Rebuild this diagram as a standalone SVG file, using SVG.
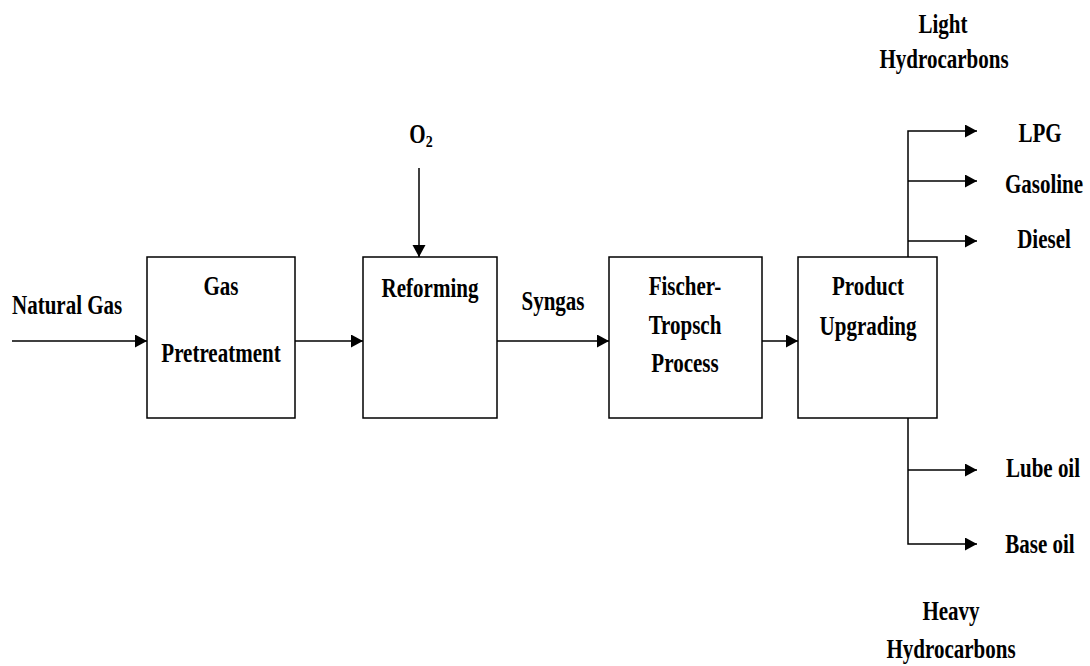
<svg xmlns="http://www.w3.org/2000/svg" width="1090" height="666" viewBox="0 0 1090 666">
<defs>
<style>
.box{fill:#fff;stroke:#000;stroke-width:1.5}
.ln{fill:none;stroke:#000;stroke-width:1.5}
.t{font-family:"Times New Roman","Liberation Serif",serif;font-weight:bold;font-size:21px;fill:#000;text-anchor:middle}
</style>
<marker id="ah" markerUnits="userSpaceOnUse" markerWidth="14" markerHeight="14" refX="12" refY="6.5" orient="auto">
<path d="M0,0 L12,6.5 L0,13 z" fill="#000"/>
</marker>
</defs>
<rect width="1090" height="666" fill="#fff"/>
<g id="connectors">
<path class="ln" d="M12,341 H147" marker-end="url(#ah)"/>
<path class="ln" d="M295,341 H363" marker-end="url(#ah)"/>
<path class="ln" d="M497,341 H609" marker-end="url(#ah)"/>
<path class="ln" d="M762,341 H798" marker-end="url(#ah)"/>
<path class="ln" d="M419,168 V257" marker-end="url(#ah)"/>
<path class="ln" d="M908,257 V131 H977" marker-end="url(#ah)"/>
<path class="ln" d="M908,181 H977" marker-end="url(#ah)"/>
<path class="ln" d="M908,241 H977" marker-end="url(#ah)"/>
<path class="ln" d="M908,418 V544 H977" marker-end="url(#ah)"/>
<path class="ln" d="M908,470 H977" marker-end="url(#ah)"/>
</g>
<g id="gas-pretreatment">
<rect class="box" x="147" y="257" width="148" height="161"/>
<text class="t" transform="translate(221,295) scale(1,1.25)">Gas</text>
<text class="t" transform="translate(221,362) scale(1,1.25)">Pretreatment</text>
</g>
<g id="reforming">
<rect class="box" x="363" y="257" width="134" height="161"/>
<text class="t" transform="translate(430,297) scale(1,1.25)">Reforming</text>
</g>
<g id="fischer-tropsch">
<rect class="box" x="609" y="257" width="153" height="161"/>
<text class="t" transform="translate(685,295) scale(1,1.25)">Fischer-</text>
<text class="t" transform="translate(685,334) scale(1,1.25)">Tropsch</text>
<text class="t" transform="translate(685,372) scale(1,1.25)">Process</text>
</g>
<g id="product-upgrading">
<rect class="box" x="798" y="257" width="139" height="161"/>
<text class="t" transform="translate(868,295) scale(1,1.25)">Product</text>
<text class="t" transform="translate(868,335) scale(1,1.25)">Upgrading</text>
</g>
<g id="labels">
<text class="t" style="text-anchor:start" transform="translate(12,314) scale(1,1.25)">Natural Gas</text>
<text class="t" transform="translate(421,143) scale(1,1.25)">O<tspan font-size="14" dy="3">2</tspan></text>
<text class="t" transform="translate(553,310) scale(1,1.25)">Syngas</text>
<text class="t" transform="translate(943,33) scale(1,1.25)">Light</text>
<text class="t" transform="translate(944,68) scale(1,1.25)">Hydrocarbons</text>
<text class="t" transform="translate(1040,142) scale(1,1.25)">LPG</text>
<text class="t" transform="translate(1044,193) scale(1,1.25)">Gasoline</text>
<text class="t" transform="translate(1044,248) scale(1,1.25)">Diesel</text>
<text class="t" transform="translate(1043,477) scale(1,1.25)">Lube oil</text>
<text class="t" transform="translate(1040,553) scale(1,1.25)">Base oil</text>
<text class="t" transform="translate(951,620) scale(1,1.25)">Heavy</text>
<text class="t" transform="translate(951,658) scale(1,1.25)">Hydrocarbons</text>
</g>
</svg>
